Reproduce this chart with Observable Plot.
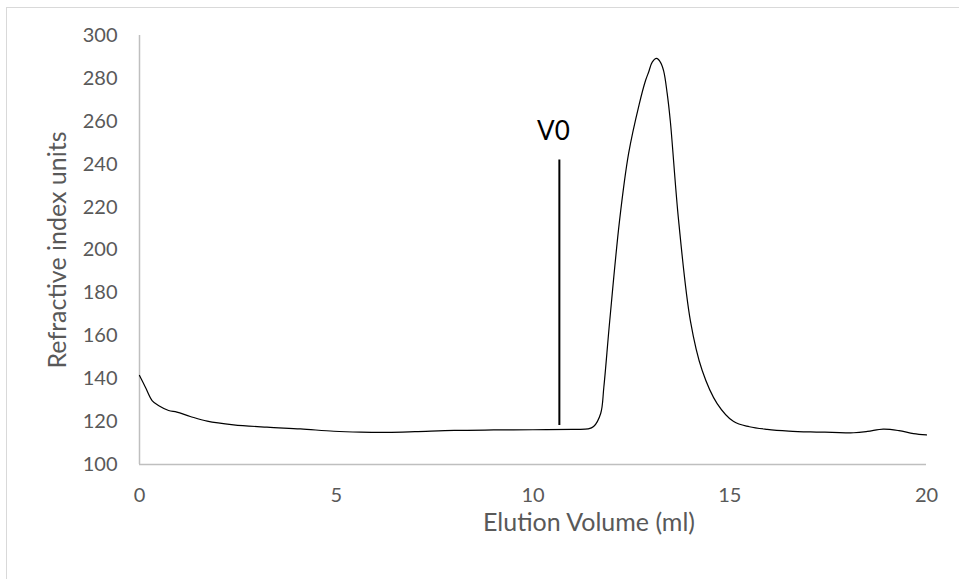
<!DOCTYPE html>
<html>
<head>
<meta charset="utf-8">
<script src="https://cdn.jsdelivr.net/npm/d3@7"></script>
<script src="https://cdn.jsdelivr.net/npm/@observablehq/plot@0.6"></script>
<style>
  html, body { margin: 0; padding: 0; background: #fff; }
  #wrap { position: relative; width: 959px; height: 579px; overflow: hidden; }
  #border { position: absolute; left: 6px; top: 7px; width: 970px; height: 600px; border: 1px solid #d9d9d9; box-sizing: border-box; }
  #chart { position: absolute; left: 0; top: 0; }
</style>
</head>
<body>
<div id="wrap"><div id="border"></div><div id="chart"></div></div>
<script>
const volume = [0, 0.15, 0.32, 0.48, 0.74, 0.95, 1.29, 1.72, 2.39, 3.24, 4.09, 4.94, 5.62, 6.3, 7.0, 8.0, 9.0, 10.0, 11.0, 11.4, 11.54, 11.72, 11.8, 11.95, 12.2, 12.43, 12.7, 12.86, 12.94, 13.03, 13.14, 13.24, 13.32, 13.41, 13.49, 13.7, 14.0, 14.3, 14.68, 15.1, 15.5, 15.95, 16.5, 17.05, 17.6, 18.15, 18.5, 18.9, 19.3, 19.67, 20.0];
const riu    = [141.5, 136, 129.8, 127.5, 125.2, 124.4, 122.4, 120.2, 118.5, 117.4, 116.6, 115.5, 115.1, 115.0, 115.3, 115.9, 116.1, 116.2, 116.4, 116.6, 117.7, 123.8, 136, 167, 213.8, 245, 268, 279, 283, 287.6, 289.3, 287.5, 283.5, 273, 260, 213.8, 167, 143.8, 128.4, 120.0, 117.6, 116.4, 115.6, 115.2, 115.0, 114.8, 115.4, 116.5, 115.8, 114.4, 113.8];
const xTicks = [0, 5, 10, 15, 20];
const yTicks = [100, 120, 140, 160, 180, 200, 220, 240, 260, 280, 300];
const v0Volume = 10.67;
const v0Range = [118.2, 242];
const v0Label = "V0";
const v0LabelPos = {x: 10.52, y: 251.5};
const xLabel = "Elution Volume (ml)";
const yLabel = "Refractive index units";

const data = volume.map((v, i) => ({volume: v, riu: riu[i]}));

const chart = Plot.plot({
  width: 959,
  height: 579,
  marginLeft: 139,
  marginRight: 33,
  marginTop: 35,
  marginBottom: 115,
  style: {fontFamily: "Lato, 'Open Sans', sans-serif", fontSize: "20px", background: "transparent"},
  x: {domain: [0, 20]},
  y: {domain: [100, 300]},
  marks: [
    Plot.ruleX([0], {stroke: "#bfbfbf", strokeWidth: 1.5}),
    Plot.ruleY([100], {stroke: "#bfbfbf", strokeWidth: 1.5}),
    Plot.axisX({ticks: xTicks, tickSize: 0, tickPadding: 23, fontSize: 20, fill: "#595959", label: null}),
    Plot.axisY({ticks: yTicks, tickSize: 0, tickPadding: 22, fontSize: 20, fill: "#595959", label: null}),
    Plot.text([xLabel], {frameAnchor: "bottom", lineAnchor: "middle", textAnchor: "middle", dy: 58, dx: 56, fontSize: 25, fill: "#595959"}),
    Plot.text([yLabel], {frameAnchor: "left", textAnchor: "middle", lineAnchor: "middle", rotate: -90, dx: -82, fontSize: 25, fill: "#595959"}),
    Plot.line(data, {x: "volume", y: "riu", stroke: "#000", strokeWidth: 1.2, curve: "catmull-rom"}),
    Plot.ruleX([v0Volume], {y1: v0Range[0], y2: v0Range[1], stroke: "#000", strokeWidth: 2}),
    Plot.text([v0Label], {x: () => v0LabelPos.x, y: () => v0LabelPos.y, lineAnchor: "bottom", fontSize: 26, fill: "#000"})
  ]
});
document.getElementById("chart").appendChild(chart);
</script>
</body>
</html>
